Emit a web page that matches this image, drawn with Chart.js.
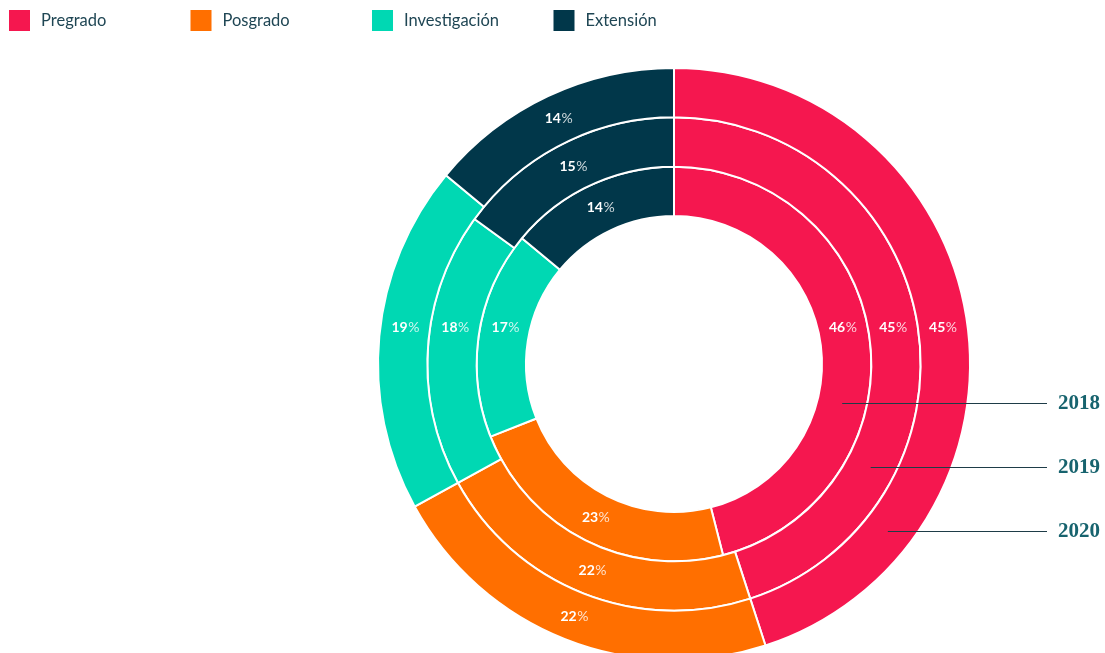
<!DOCTYPE html>
<html><head><meta charset="utf-8">
<script src="https://cdn.jsdelivr.net/npm/chart.js@4.4.1/dist/chart.umd.min.js"></script>
<style>
html,body{margin:0;padding:0;background:#fff;overflow:hidden;width:1105px;height:653px}
#wrap{position:absolute;left:0;top:0;width:1105px;height:728px}
</style>
</head><body><div id="wrap"><canvas id="c"></canvas></div>
<script>
const categories = ['Pregrado', 'Posgrado', 'Investigación', 'Extensión'];
const years = ['2020', '2019', '2018']; // outer ring to inner ring
const values2020 = [45, 22, 19, 14];
const values2019 = [45, 22, 18, 15];
const values2018 = [46, 23, 17, 14];
const colors = ['#F5174F', '#FF6F00', '#00D8B3', '#01374A'];

const LABEL_FONT = '"Lato", "Open Sans", sans-serif';
const yearLineOffsets = [167, 103, 39]; // vertical offsets below centre for year leader lines
const rowOffset = 37; // Pregrado / Investigación labels sit on one row above centre

const overlayPlugin = {
  id: 'overlay',
  afterDatasetsDraw(chart) {
    const ctx = chart.ctx;
    ctx.save();
    // percentage labels
    chart.data.datasets.forEach((ds, di) => {
      const meta = chart.getDatasetMeta(di);
      meta.data.forEach((arc, i) => {
        const p = arc.getProps(['x', 'y', 'startAngle', 'endAngle', 'innerRadius', 'outerRadius'], true);
        const rm = (p.innerRadius + p.outerRadius) / 2;
        let x, y;
        if (i === 0 || i === 2) {
          y = p.y - rowOffset;
          const dx = Math.sqrt(rm * rm - rowOffset * rowOffset);
          x = i === 0 ? p.x + dx : p.x - dx;
        } else {
          const a = (p.startAngle + p.endAngle) / 2;
          x = p.x + Math.cos(a) * rm;
          y = p.y + Math.sin(a) * rm;
        }
        const num = String(ds.data[i]);
        ctx.font = 'bold 14px ' + LABEL_FONT;
        const wn = ctx.measureText(num).width;
        ctx.font = '14px ' + LABEL_FONT;
        const wp = ctx.measureText('%').width;
        const x0 = x - (wn + wp) / 2;
        ctx.textBaseline = 'middle';
        ctx.textAlign = 'left';
        ctx.fillStyle = '#ffffff';
        ctx.font = 'bold 14px ' + LABEL_FONT;
        ctx.fillText(num, x0, y);
        ctx.globalAlpha = 0.8;
        ctx.font = '14px ' + LABEL_FONT;
        ctx.fillText('%', x0 + wn + 0.5, y);
        ctx.globalAlpha = 1;
      });
    });
    // year leader lines and labels
    const endX = 1047;
    chart.data.datasets.forEach((ds, di) => {
      const meta = chart.getDatasetMeta(di);
      const p = meta.data[0].getProps(['x', 'y', 'innerRadius', 'outerRadius'], true);
      const rm = (p.innerRadius + p.outerRadius) / 2;
      const dy = yearLineOffsets[di];
      const y = p.y + dy;
      const x1 = p.x + Math.sqrt(Math.max(rm * rm - dy * dy, 0));
      ctx.strokeStyle = '#1E3C48';
      ctx.lineWidth = 1;
      ctx.beginPath();
      ctx.moveTo(x1, Math.round(y) + 0.5);
      ctx.lineTo(endX, Math.round(y) + 0.5);
      ctx.stroke();
      ctx.fillStyle = '#17636E';
      ctx.font = 'bold 21px "Liberation Serif", "DejaVu Serif", serif';
      ctx.textAlign = 'left';
      ctx.textBaseline = 'middle';
      ctx.fillText(ds.label, 1058, y + 1);
    });
    // legend
    categories.forEach((c, i) => {
      const bx = 9 + i * 181.5;
      ctx.fillStyle = colors[i];
      ctx.fillRect(bx, 10, 21, 21);
      ctx.fillStyle = '#1F4654';
      ctx.font = '16.5px ' + LABEL_FONT;
      ctx.textAlign = 'left';
      ctx.textBaseline = 'middle';
      ctx.fillText(c, bx + 32, 21);
    });
    ctx.restore();
  }
};

new Chart(document.getElementById('c'), {
  type: 'doughnut',
  data: {
    labels: categories,
    datasets: [
      { label: years[0], data: values2020, backgroundColor: colors, borderColor: '#ffffff', borderWidth: 2 },
      { label: years[1], data: values2019, backgroundColor: colors, borderColor: '#ffffff', borderWidth: 2 },
      { label: years[2], data: values2018, backgroundColor: colors, borderColor: '#ffffff', borderWidth: 2 }
    ]
  },
  options: {
    responsive: true,
    maintainAspectRatio: false,
    animation: false,
    radius: 296,
    cutout: '50%',
    layout: { padding: { left: 379, right: 136, top: 0, bottom: 0 } },
    plugins: { legend: { display: false }, tooltip: { enabled: false } }
  },
  plugins: [overlayPlugin]
});
</script>
</body></html>
